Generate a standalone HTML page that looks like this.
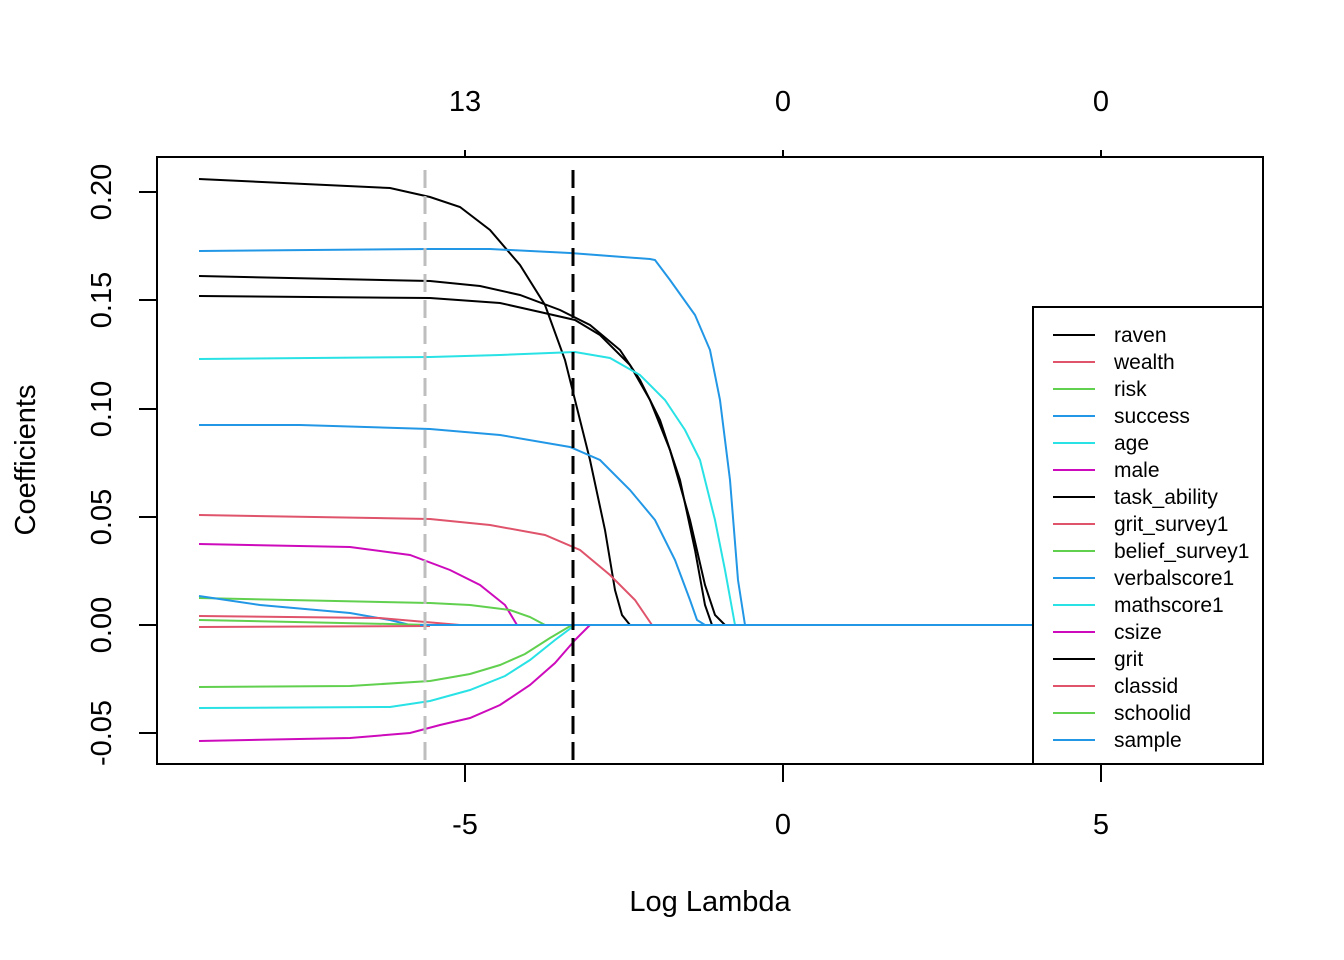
<!DOCTYPE html>
<html><head><meta charset="utf-8"><style>body{margin:0;background:#fff}svg{display:block}</style></head>
<body>
<svg width="1344" height="960" xmlns="http://www.w3.org/2000/svg" font-family="Liberation Sans, Arial, sans-serif" font-size="29">
<rect width="1344" height="960" fill="#fff"/>
<g fill="none" stroke-width="2">
<polyline stroke="#000" points="199,179 390,188 430,197 460,207 490,230 520,265 545,305 565,360 575,400 590,460 605,530 615,590 622,615 630,625"/>
<polyline stroke="#000" points="199,276 430,281 480,286 520,295 560,310 590,325 620,350 640,380 660,420 680,480 695,550 705,605 712,625"/>
<polyline stroke="#000" points="199,296 430,298 500,303 540,312 575,320 600,335 630,365 650,400 670,450 690,520 705,585 715,615 725,625"/>
<polyline stroke="#2297E6" points="199,251 430,249 490,249 570,253 650,259 655,260 670,280 695,315 710,350 720,400 730,480 738,580 745,625"/>
<polyline stroke="#28E2E5" points="199,359 430,357 500,355 575,352 610,358 640,375 665,400 685,430 700,460 715,520 725,570 735,625"/>
<polyline stroke="#2297E6" points="199,425 300,425 430,429 500,435 570,447 600,460 630,490 655,520 675,560 690,600 697,620 705,625"/>
<polyline stroke="#DF536B" points="199,515 430,519 490,525 545,535 580,550 610,575 635,600 652,625"/>
<polyline stroke="#CD0BBC" points="199,544 350,547 410,555 450,570 480,585 505,605 517,625"/>
<polyline stroke="#61D04F" points="199,598 430,603 470,605 510,610 530,617 545,625"/>
<polyline stroke="#2297E6" points="199,596 260,605 350,613 390,620 410,625"/>
<polyline stroke="#DF536B" points="199,616 380,618 460,625"/>
<polyline stroke="#61D04F" points="199,620 390,624 430,625"/>
<polyline stroke="#DF536B" points="199,627 430,626"/>
<polyline stroke="#61D04F" points="199,687 350,686 430,681 470,674 500,665 525,654 550,638 572,625"/>
<polyline stroke="#28E2E5" points="199,708 390,707 430,701 470,690 505,676 530,660 555,640 575,625"/>
<polyline stroke="#CD0BBC" points="199,741 350,738 410,733 440,725 470,718 500,705 530,685 555,663 575,640 590,625"/>
<line stroke="#2297E6" x1="420" y1="625" x2="1033" y2="625"/>
</g>
<line x1="425" y1="170" x2="425" y2="764" stroke="#BEBEBE" stroke-width="3" stroke-dasharray="18,8"/>
<line x1="573" y1="170" x2="573" y2="764" stroke="#000" stroke-width="3" stroke-dasharray="18,8"/>
<rect x="157" y="157" width="1106" height="607" fill="none" stroke="#000" stroke-width="2"/>
<g stroke="#000" stroke-width="2">
<line x1="465" y1="764" x2="465" y2="782"/><line x1="783" y1="764" x2="783" y2="782"/><line x1="1101" y1="764" x2="1101" y2="782"/>
<line x1="465" y1="157" x2="465" y2="150"/><line x1="783" y1="157" x2="783" y2="150"/><line x1="1101" y1="157" x2="1101" y2="150"/>
<line x1="157" y1="192" x2="139" y2="192"/><line x1="157" y1="300" x2="139" y2="300"/><line x1="157" y1="409" x2="139" y2="409"/><line x1="157" y1="517" x2="139" y2="517"/><line x1="157" y1="625" x2="139" y2="625"/><line x1="157" y1="733" x2="139" y2="733"/>
</g>
<g text-anchor="middle" fill="#000">
<text x="465" y="834">-5</text><text x="783" y="834">0</text><text x="1101" y="834">5</text>
<text x="465" y="111">13</text><text x="783" y="111">0</text><text x="1101" y="111">0</text>
<text x="710" y="911">Log Lambda</text>
<text transform="translate(35,460) rotate(-90)">Coefficients</text>
<text transform="translate(111,192) rotate(-90)">0.20</text>
<text transform="translate(111,300) rotate(-90)">0.15</text>
<text transform="translate(111,409) rotate(-90)">0.10</text>
<text transform="translate(111,517) rotate(-90)">0.05</text>
<text transform="translate(111,625) rotate(-90)">0.00</text>
<text transform="translate(111,733) rotate(-90)">-0.05</text>
</g>
<rect x="1033" y="307" width="230" height="457" fill="#fff" stroke="#000" stroke-width="2"/>
<g font-size="21" fill="#000" stroke-width="2">
<g transform="translate(0,0)"><line x1="1053" y1="335" x2="1095" y2="335" stroke="#000"/><text x="1114" y="342">raven</text></g>
<g transform="translate(0,27)"><line x1="1053" y1="335" x2="1095" y2="335" stroke="#DF536B"/><text x="1114" y="342">wealth</text></g>
<g transform="translate(0,54)"><line x1="1053" y1="335" x2="1095" y2="335" stroke="#61D04F"/><text x="1114" y="342">risk</text></g>
<g transform="translate(0,81)"><line x1="1053" y1="335" x2="1095" y2="335" stroke="#2297E6"/><text x="1114" y="342">success</text></g>
<g transform="translate(0,108)"><line x1="1053" y1="335" x2="1095" y2="335" stroke="#28E2E5"/><text x="1114" y="342">age</text></g>
<g transform="translate(0,135)"><line x1="1053" y1="335" x2="1095" y2="335" stroke="#CD0BBC"/><text x="1114" y="342">male</text></g>
<g transform="translate(0,162)"><line x1="1053" y1="335" x2="1095" y2="335" stroke="#000"/><text x="1114" y="342">task_ability</text></g>
<g transform="translate(0,189)"><line x1="1053" y1="335" x2="1095" y2="335" stroke="#DF536B"/><text x="1114" y="342">grit_survey1</text></g>
<g transform="translate(0,216)"><line x1="1053" y1="335" x2="1095" y2="335" stroke="#61D04F"/><text x="1114" y="342">belief_survey1</text></g>
<g transform="translate(0,243)"><line x1="1053" y1="335" x2="1095" y2="335" stroke="#2297E6"/><text x="1114" y="342">verbalscore1</text></g>
<g transform="translate(0,270)"><line x1="1053" y1="335" x2="1095" y2="335" stroke="#28E2E5"/><text x="1114" y="342">mathscore1</text></g>
<g transform="translate(0,297)"><line x1="1053" y1="335" x2="1095" y2="335" stroke="#CD0BBC"/><text x="1114" y="342">csize</text></g>
<g transform="translate(0,324)"><line x1="1053" y1="335" x2="1095" y2="335" stroke="#000"/><text x="1114" y="342">grit</text></g>
<g transform="translate(0,351)"><line x1="1053" y1="335" x2="1095" y2="335" stroke="#DF536B"/><text x="1114" y="342">classid</text></g>
<g transform="translate(0,378)"><line x1="1053" y1="335" x2="1095" y2="335" stroke="#61D04F"/><text x="1114" y="342">schoolid</text></g>
<g transform="translate(0,405)"><line x1="1053" y1="335" x2="1095" y2="335" stroke="#2297E6"/><text x="1114" y="342">sample</text></g>
</g>
</svg>
</body></html>
